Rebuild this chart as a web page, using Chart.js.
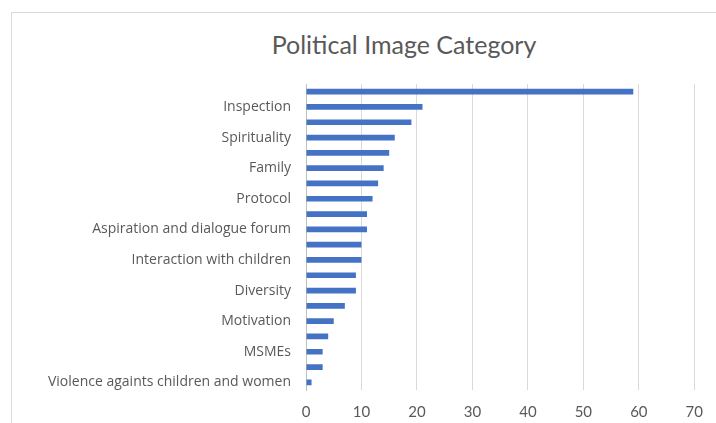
<!DOCTYPE html>
<html>
<head>
<meta charset="utf-8">
<script src="https://cdn.jsdelivr.net/npm/chart.js@4"></script>
<style>
  html, body { margin: 0; padding: 0; background: #fff; }
  #wrap { position: relative; width: 716px; height: 423px; overflow: hidden; }
  #frame { position: absolute; left: 11px; top: 12px; width: 720px; height: 430px; border: 1px solid #d9d9d9; box-sizing: border-box; }
  #title { position: absolute; left: 254px; width: 300px; top: 29px; text-align: center;
           font-family: Lato, sans-serif; font-size: 25px; color: #595959; }
  canvas { position: absolute; left: 0; top: 0; }
</style>
</head>
<body>
<div id="wrap">
  <div id="frame"></div>
  <div id="title">Political Image Category</div>
  <canvas id="chart" width="716" height="423"></canvas>
</div>
<script>
// categories from top to bottom (only every other one is labelled in the picture)
const categories = [
  '', 'Inspection', '', 'Spirituality', '', 'Family', '', 'Protocol',
  '', 'Aspiration and dialogue forum', '', 'Interaction with children',
  '', 'Diversity', '', 'Motivation', '', 'MSMEs', '', 'Violence againts children and women'
];
const counts = [59, 21, 19, 16, 15, 14, 13, 12, 11, 11, 10, 10, 9, 9, 7, 5, 4, 3, 3, 1];
const xTicks = [0, 10, 20, 30, 40, 50, 60, 70];

const ctx = document.getElementById('chart').getContext('2d');
new Chart(ctx, {
  type: 'bar',
  data: {
    labels: categories,
    datasets: [{
      data: counts,
      backgroundColor: '#4472C4',
      barPercentage: 0.75,
      categoryPercentage: 0.5
    }]
  },
  options: {
    indexAxis: 'y',
    responsive: false,
    animation: false,
    layout: { padding: { left: 12, right: 20, top: 84, bottom: 0 } },
    plugins: { legend: { display: false }, tooltip: { enabled: false } },
    scales: {
      x: {
        min: 0,
        max: 70,
        afterBuildTicks: (scale) => { scale.ticks = xTicks.map(v => ({ value: v })); },
        afterFit: (scale) => { scale.height = 33; },
        grid: { color: '#d9d9d9', drawTicks: false },
        border: { display: false },
        ticks: { color: '#595959', padding: 13, font: { family: 'Lato', size: 15 } }
      },
      y: {
        afterFit: (scale) => { scale.width = 294; },
        grid: { display: false, drawTicks: false },
        border: { color: '#bfbfbf' },
        ticks: { autoSkip: false, color: '#595959', padding: 15, font: { family: 'Open Sans', size: 14 } }
      }
    }
  }
});
</script>
</body>
</html>
